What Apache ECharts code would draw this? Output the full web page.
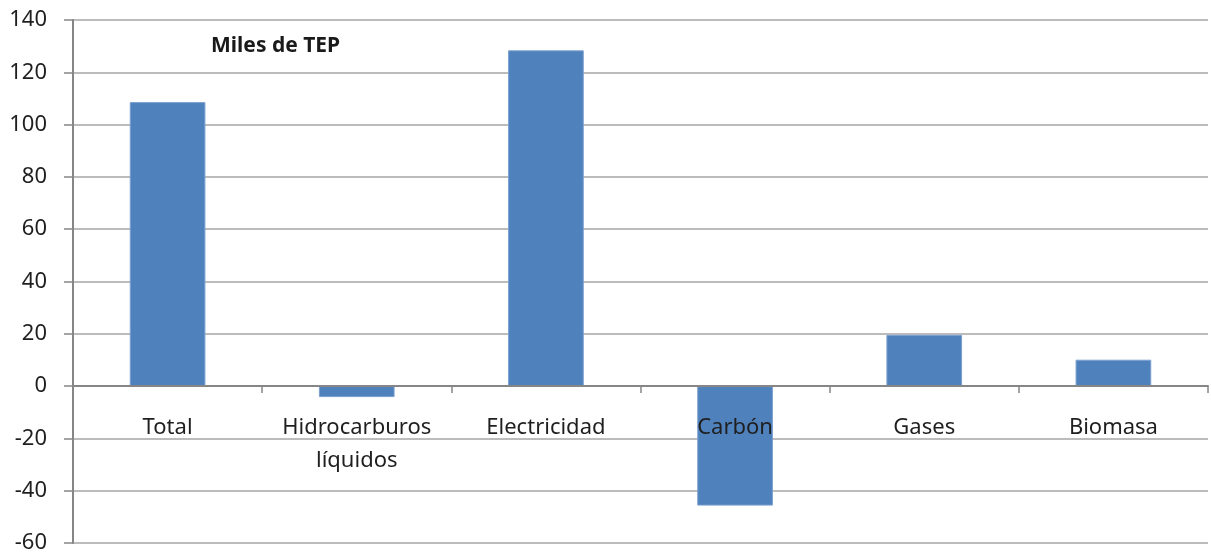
<!DOCTYPE html>
<html><head><meta charset="utf-8">
<script src="https://cdn.jsdelivr.net/npm/echarts@6/dist/echarts.min.js"></script>
<style>html,body{margin:0;padding:0;background:#fff}#c{width:1211px;height:557px}</style>
</head><body><div id="c"></div>
<script>
const categories = ['Total', 'Hidrocarburos\nlíquidos', 'Electricidad', 'Carbón', 'Gases', 'Biomasa'];
const values = [108.6, -4.2, 128.4, -45.7, 19.6, 10.1];
const yTicks = { min: -60, max: 140, interval: 20 };
const unitLabel = 'Miles de TEP';

const font = '"Noto Sans", "Open Sans", sans-serif';
const chart = echarts.init(document.getElementById('c'), null, { renderer: 'canvas' });
const labelAxis = {
  type: 'category', data: categories, position: 'bottom', z: 6, offset: 0,
  axisLine: { show: false }, axisTick: { show: false }, splitLine: { show: false },
  axisLabel: { fontFamily: font, fontSize: 22, color: '#1f1f1f', margin: 25, lineHeight: 33, interval: 0 }
};
function build(offset) {
  return {
    animation: false,
    backgroundColor: '#ffffff',
    title: {
      text: unitLabel, left: 206, top: 31,
      textStyle: { fontFamily: font, fontWeight: 'bold', fontSize: 21, color: '#1a1a1a' }
    },
    grid: { left: 73, right: 3, top: 20, bottom: 14, containLabel: false, outerBoundsMode: 'none' },
    xAxis: [{
      type: 'category', data: categories, z: 5,
      axisLine: { onZero: true, lineStyle: { color: '#868686', width: 2 } },
      axisTick: { show: true, length: 7, lineStyle: { color: '#868686', width: 1.5 } },
      axisLabel: { show: false }
    }, Object.assign({}, labelAxis, { offset: offset })],
    yAxis: {
      type: 'value', min: yTicks.min, max: yTicks.max, interval: yTicks.interval,
      axisLine: { show: true, lineStyle: { color: '#868686', width: 2 } },
      axisTick: { show: true, length: 9, lineStyle: { color: '#868686', width: 1.5 } },
      splitLine: { lineStyle: { color: '#a6a6a6', width: 1.5 } },
      axisLabel: { fontFamily: font, fontSize: 22, color: '#1f1f1f', margin: 26 }
    },
    series: [{
      type: 'bar', data: values, barCategoryGap: '60%', xAxisIndex: 0,
      itemStyle: { color: '#4f81bd', borderColor: '#7ba0cf', borderWidth: 1 }
    }]
  };
}
chart.setOption(build(0));
const zeroY = chart.convertToPixel({ yAxisIndex: 0 }, 0);
const bottomY = chart.convertToPixel({ yAxisIndex: 0 }, yTicks.min);
chart.setOption(build(-(bottomY - zeroY)));
</script></body></html>
